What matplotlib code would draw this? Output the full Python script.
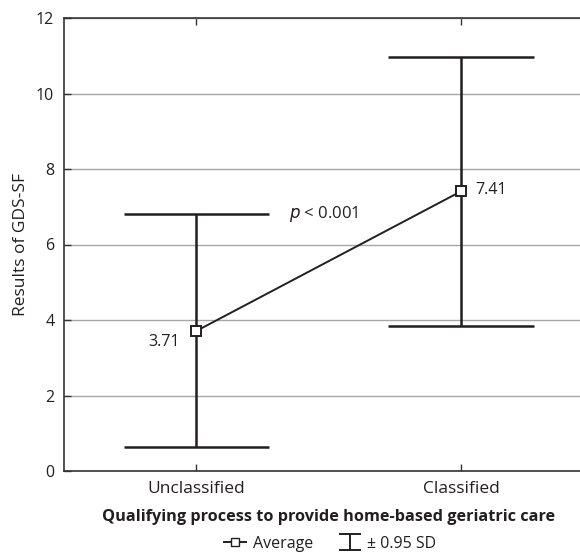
import matplotlib
matplotlib.use("Agg")
from matplotlib import pyplot as plt
from matplotlib.lines import Line2D
from matplotlib.collections import LineCollection
from matplotlib.container import ErrorbarContainer

plt.rcParams['font.family'] = ['Open Sans', 'DejaVu Sans']

# data
groups = ["Unclassified", "Classified"]
means = [3.71, 7.41]
low = [0.64, 3.84]
high = [6.82, 10.98]
p_text = "< 0.001"

ink = "#231f20"
fig = plt.figure(figsize=(5.80, 5.54), dpi=100)
ax = fig.add_axes([64 / 580, 83 / 554, 529.5 / 580, 453 / 554])

x = list(range(len(groups)))

# error bars drawn as lines: vertical bar plus wide caps
ax.vlines(x, low, high, color=ink, lw=1.8, zorder=3)
ax.hlines(low, [i - 0.275 for i in x], [i + 0.275 for i in x], color=ink, lw=1.8, zorder=3)
ax.hlines(high, [i - 0.275 for i in x], [i + 0.275 for i in x], color=ink, lw=1.8, zorder=3)

# mean line with square markers
ax.plot(x, means, color=ink, lw=1.4, marker="s", ms=6.5, mfc="white",
        mec=ink, mew=1.4, zorder=4)

ax.annotate(f"{means[0]:.2f}", (x[0], means[0]), xytext=(-12, -8),
            textcoords="offset points", ha="right", va="center", fontsize=11.5, color=ink)
ax.annotate(f"{means[1]:.2f}", (x[1], means[1]), xytext=(10, 1),
            textcoords="offset points", ha="left", va="center", fontsize=11.5, color=ink)
ax.text(0.348, high[0], "$\\it{p}$ " + p_text, ha="left", va="center",
        fontsize=12, color=ink)

ax.set_xlim(-0.5, 1.5)
ax.set_ylim(0, 12)
ax.set_yticks(range(0, 13, 2))
ax.set_xticks(x)
ax.set_xticklabels(groups, fontsize=12.5)
ax.grid(axis="y", color="#a7a7a7", lw=1.0)
ax.set_axisbelow(True)

for s in ["left", "top", "bottom"]:
    ax.spines[s].set_color("#333333")
    ax.spines[s].set_linewidth(1.2)
ax.spines["right"].set_visible(False)

ax.tick_params(axis="y", direction="in", length=5, width=1, colors="#333333",
               labelsize=11.5, pad=7, labelcolor=ink)
ax.tick_params(axis="x", direction="in", length=5, width=1, colors="#333333",
               pad=7, labelcolor=ink, top=True)

ax.set_ylabel("Results of GDS-SF", fontsize=12.5, color=ink, labelpad=5)
ax.set_xlabel("Qualifying process to provide home-based geriatric care",
              fontsize=11.7, fontweight="bold", color=ink, labelpad=9)

# legend proxies
avg_handle = Line2D([], [], color=ink, lw=1.4, marker="s", ms=6, mfc="white", mec=ink)
plain = Line2D([], [], ls="none", marker="none")
cap = Line2D([], [], ls="none", marker="_", ms=16, mew=1.4, color=ink)
bar = LineCollection([], colors=ink, linewidths=1.4)
sd_handle = ErrorbarContainer((plain, (cap, cap), (bar,)), has_xerr=False, has_yerr=True)

fig.legend([avg_handle, sd_handle], ["Average", "± 0.95 SD"], loc="center",
           bbox_to_anchor=(330 / 580, 1 - 544 / 554), ncol=2, frameon=False,
           fontsize=11.5, handlelength=1.4, handletextpad=0.4, columnspacing=1.6,
           labelcolor=ink, borderpad=0)

fig.savefig("out.png", dpi=100)
